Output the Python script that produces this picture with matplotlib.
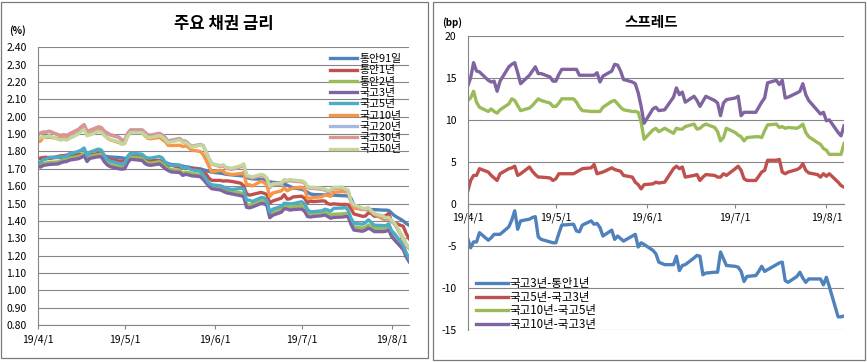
import matplotlib
matplotlib.use('Agg')
import matplotlib.pyplot as plt
import matplotlib.dates as mdates
from matplotlib.patches import Rectangle
from matplotlib.ticker import FuncFormatter
import numpy as np
import pandas as pd

plt.rcParams['font.family'] = ['Noto Sans CJK KR', 'DejaVu Sans']

# business days 2019-04-01 .. 2019-08-07 (KR holidays removed)
dates = pd.bdate_range('2019-04-01', '2019-08-07')
dates = dates.drop(pd.to_datetime(['2019-05-06', '2019-06-06']))

yield_names = ['통안91일', '통안1년', '통안2년', '국고3년', '국고5년',
               '국고10년', '국고20년', '국고30년', '국고50년']
yield_colors = ['#4F81BD', '#C0504D', '#9BBB59', '#8064A2', '#4BACC6',
                '#F79646', '#A6B9DC', '#D99694', '#C3D69B']

t91 = [1.758, 1.760, 1.762, 1.762, 1.763, 1.765, 1.766, 1.767, 1.768, 1.770, 1.772, 1.774, 1.776, 1.774, 1.775, 1.776, 1.776, 1.774, 1.770, 1.768, 1.765, 1.763,
       1.760, 1.762, 1.765, 1.762, 1.758, 1.752, 1.748, 1.745, 1.740, 1.735, 1.730, 1.725, 1.720, 1.715, 1.712, 1.710, 1.705, 1.700, 1.695, 1.690, 1.685, 1.680,
       1.675, 1.672, 1.668, 1.665, 1.660, 1.658, 1.650, 1.645, 1.642, 1.640, 1.636, 1.632, 1.625, 1.622, 1.618, 1.612, 1.605, 1.598, 1.590,
       1.582, 1.575, 1.565, 1.555, 1.552, 1.550, 1.550, 1.550, 1.548, 1.548, 1.545, 1.545, 1.542, 1.530, 1.490, 1.468, 1.465, 1.465, 1.465, 1.465, 1.462, 1.462, 1.460,
       1.445, 1.430, 1.400, 1.385, 1.375]
t1y = [1.756, 1.762, 1.765, 1.767, 1.759, 1.771, 1.775, 1.776, 1.778, 1.786, 1.785, 1.784, 1.783, 1.772, 1.780, 1.789, 1.783, 1.776, 1.761, 1.753, 1.745, 1.744,
       1.746, 1.767, 1.780, 1.772, 1.762, 1.755, 1.745, 1.748, 1.739, 1.723, 1.718, 1.720, 1.709, 1.704, 1.706, 1.706, 1.704, 1.693, 1.676, 1.671, 1.646, 1.633,
       1.633, 1.629, 1.631, 1.627, 1.617, 1.602, 1.557, 1.548, 1.552, 1.564, 1.559, 1.552, 1.502, 1.514, 1.531, 1.551, 1.525, 1.527, 1.538,
       1.542, 1.530, 1.505, 1.514, 1.511, 1.515, 1.514, 1.499, 1.495, 1.498, 1.494, 1.495, 1.493, 1.471, 1.440, 1.426, 1.428, 1.446, 1.443, 1.427, 1.427, 1.429, 1.443,
       1.397, 1.388, 1.369, 1.328, 1.298]
t2y = [1.727, 1.722, 1.732, 1.734, 1.737, 1.740, 1.747, 1.752, 1.754, 1.762, 1.770, 1.777, 1.787, 1.754, 1.772, 1.782, 1.780, 1.752, 1.734, 1.724, 1.712, 1.710,
       1.713, 1.748, 1.768, 1.761, 1.743, 1.735, 1.733, 1.741, 1.728, 1.713, 1.703, 1.695, 1.691, 1.675, 1.681, 1.678, 1.673, 1.668, 1.653, 1.633, 1.613, 1.598,
       1.594, 1.586, 1.578, 1.571, 1.561, 1.556, 1.494, 1.491, 1.496, 1.516, 1.514, 1.506, 1.434, 1.448, 1.466, 1.486, 1.484, 1.478, 1.481,
       1.486, 1.473, 1.443, 1.440, 1.443, 1.448, 1.452, 1.443, 1.433, 1.438, 1.440, 1.443, 1.442, 1.398, 1.365, 1.358, 1.365, 1.376, 1.368, 1.356, 1.356, 1.358, 1.365,
       1.330, 1.310, 1.255, 1.214, 1.190]
t3y = [1.715, 1.710, 1.720, 1.722, 1.725, 1.728, 1.735, 1.740, 1.742, 1.750, 1.758, 1.765, 1.775, 1.742, 1.760, 1.770, 1.768, 1.740, 1.722, 1.712, 1.700, 1.698,
       1.700, 1.735, 1.755, 1.748, 1.730, 1.722, 1.720, 1.728, 1.715, 1.700, 1.690, 1.682, 1.678, 1.662, 1.668, 1.665, 1.660, 1.655, 1.640, 1.620, 1.600, 1.585,
       1.578, 1.570, 1.562, 1.555, 1.545, 1.540, 1.478, 1.475, 1.480, 1.500, 1.498, 1.490, 1.418, 1.432, 1.450, 1.470, 1.468, 1.462, 1.465,
       1.468, 1.455, 1.425, 1.422, 1.425, 1.430, 1.434, 1.425, 1.415, 1.420, 1.422, 1.425, 1.424, 1.380, 1.347, 1.340, 1.347, 1.358, 1.350, 1.338, 1.338, 1.340, 1.347,
       1.310, 1.290, 1.235, 1.194, 1.165]
t5y = [1.730, 1.738, 1.754, 1.756, 1.767, 1.766, 1.769, 1.771, 1.770, 1.786, 1.800, 1.808, 1.820, 1.776, 1.796, 1.814, 1.807, 1.775, 1.754, 1.744, 1.731, 1.726,
       1.730, 1.771, 1.791, 1.784, 1.768, 1.762, 1.762, 1.771, 1.762, 1.736, 1.727, 1.720, 1.721, 1.703, 1.708, 1.704, 1.694, 1.687, 1.666, 1.643, 1.618, 1.608,
       1.602, 1.596, 1.587, 1.581, 1.587, 1.585, 1.520, 1.519, 1.512, 1.534, 1.533, 1.518, 1.450, 1.467, 1.484, 1.502, 1.500, 1.498, 1.499,
       1.510, 1.500, 1.465, 1.452, 1.453, 1.458, 1.467, 1.463, 1.455, 1.472, 1.474, 1.478, 1.462, 1.416, 1.385, 1.381, 1.390, 1.406, 1.390, 1.375, 1.373, 1.372, 1.383,
       1.343, 1.326, 1.261, 1.216, 1.185]
t10y = [1.855, 1.860, 1.888, 1.880, 1.882, 1.875, 1.880, 1.886, 1.876, 1.896, 1.921, 1.931, 1.943, 1.898, 1.903, 1.923, 1.926, 1.903, 1.877, 1.867, 1.851, 1.844,
        1.846, 1.889, 1.915, 1.908, 1.890, 1.875, 1.873, 1.881, 1.868, 1.856, 1.835, 1.834, 1.836, 1.828, 1.833, 1.823, 1.808, 1.800, 1.783, 1.752, 1.716, 1.681,
        1.691, 1.685, 1.673, 1.667, 1.672, 1.678, 1.608, 1.608, 1.601, 1.628, 1.621, 1.606, 1.540, 1.560, 1.573, 1.590, 1.573, 1.582, 1.589,
        1.594, 1.583, 1.530, 1.531, 1.534, 1.539, 1.549, 1.546, 1.541, 1.564, 1.569, 1.567, 1.571, 1.506, 1.474, 1.465, 1.468, 1.475, 1.455, 1.440, 1.410, 1.408, 1.415,
        1.400, 1.385, 1.300, 1.262, 1.250]
t20y = [1.895, 1.905, 1.910, 1.910, 1.915, 1.895, 1.890, 1.895, 1.890, 1.900, 1.925, 1.940, 1.953, 1.915, 1.920, 1.940, 1.935, 1.915, 1.905, 1.895, 1.880, 1.865,
        1.865, 1.905, 1.925, 1.925, 1.910, 1.895, 1.895, 1.905, 1.895, 1.880, 1.860, 1.865, 1.875, 1.860, 1.860, 1.845, 1.830, 1.840, 1.835, 1.800, 1.760, 1.730,
        1.715, 1.720, 1.705, 1.700, 1.715, 1.725, 1.660, 1.655, 1.650, 1.665, 1.660, 1.645, 1.595, 1.610, 1.615, 1.635, 1.630, 1.635, 1.632,
        1.628, 1.620, 1.595, 1.590, 1.590, 1.585, 1.580, 1.572, 1.575, 1.590, 1.592, 1.580, 1.575, 1.510, 1.490, 1.470, 1.468, 1.472, 1.455, 1.440, 1.425, 1.415, 1.418,
        1.400, 1.385, 1.300, 1.265, 1.245]
t30y = [1.897, 1.907, 1.912, 1.912, 1.917, 1.897, 1.892, 1.897, 1.892, 1.902, 1.927, 1.942, 1.955, 1.917, 1.922, 1.942, 1.937, 1.917, 1.907, 1.897, 1.882, 1.867,
        1.863, 1.903, 1.923, 1.923, 1.908, 1.893, 1.893, 1.903, 1.893, 1.878, 1.858, 1.863, 1.873, 1.858, 1.858, 1.843, 1.828, 1.838, 1.833, 1.798, 1.758, 1.728,
        1.712, 1.717, 1.702, 1.697, 1.712, 1.722, 1.657, 1.652, 1.647, 1.662, 1.657, 1.642, 1.592, 1.607, 1.612, 1.632, 1.627, 1.632, 1.629,
        1.625, 1.617, 1.592, 1.587, 1.587, 1.582, 1.577, 1.569, 1.572, 1.587, 1.589, 1.577, 1.572, 1.507, 1.487, 1.467, 1.465, 1.469, 1.452, 1.437, 1.422, 1.412, 1.415,
        1.397, 1.382, 1.297, 1.262, 1.242]
t50y = [1.870, 1.880, 1.885, 1.885, 1.890, 1.870, 1.865, 1.870, 1.865, 1.875, 1.900, 1.915, 1.928, 1.890, 1.895, 1.915, 1.910, 1.890, 1.880, 1.870, 1.855, 1.840,
        1.848, 1.888, 1.908, 1.908, 1.894, 1.880, 1.880, 1.891, 1.882, 1.868, 1.849, 1.855, 1.866, 1.852, 1.853, 1.839, 1.825, 1.836, 1.832, 1.798, 1.759, 1.730,
        1.718, 1.723, 1.708, 1.703, 1.718, 1.728, 1.663, 1.658, 1.653, 1.668, 1.663, 1.648, 1.598, 1.613, 1.618, 1.638, 1.633, 1.638, 1.635,
        1.631, 1.623, 1.598, 1.593, 1.593, 1.588, 1.583, 1.575, 1.578, 1.593, 1.595, 1.583, 1.578, 1.513, 1.493, 1.473, 1.471, 1.475, 1.458, 1.443, 1.428, 1.418, 1.421,
        1.403, 1.388, 1.303, 1.268, 1.248]

spread_names = ['국고3년-통안1년', '국고5년-국고3년', '국고10년-국고5년', '국고10년-국고3년']
spread_colors = ['#4F81BD', '#C0504D', '#9BBB59', '#8064A2']

s3_1 = [-4.1, -5.2, -4.5, -4.5, -3.4, -4.3, -4.0, -3.6, -3.6, -3.6, -2.7, -1.9, -0.8, -3.0, -2.0, -1.8, -1.6, -1.5, -3.9, -4.2, -4.5, -4.6,
        -4.6, -3.5, -2.5, -2.4, -3.2, -3.3, -2.5, -2.0, -2.4, -2.3, -2.8, -3.8, -3.1, -4.2, -3.8, -4.1, -4.4, -3.8, -3.6, -5.1, -4.6, -4.8,
        -5.5, -5.9, -6.9, -7.2, -7.2, -6.2, -7.9, -7.3, -7.2, -6.4, -6.1, -6.2, -8.4, -8.2, -8.1, -8.1, -5.7, -6.5, -7.3,
        -7.4, -7.5, -8.0, -9.2, -8.6, -8.5, -8.0, -7.4, -8.0, -7.8, -7.2, -7.0, -6.9, -9.1, -9.3, -8.6, -8.1, -8.8, -9.3, -8.9, -8.9, -8.9, -9.6,
        -8.7, -9.8, -13.4, -13.4, -13.3]
s5_3 = [1.5, 2.8, 3.4, 3.4, 4.2, 3.8, 3.4, 3.1, 2.8, 3.6, 4.2, 4.3, 4.5, 3.4, 3.6, 4.4, 3.9, 3.5, 3.2, 3.2, 3.1, 2.8,
        3.0, 3.6, 3.6, 3.6, 3.8, 4.0, 4.2, 4.3, 4.7, 3.6, 3.7, 3.8, 4.3, 4.1, 4.0, 3.9, 3.4, 3.2, 2.6, 2.3, 1.8, 2.3,
        2.4, 2.6, 2.5, 2.6, 4.2, 4.5, 4.2, 4.4, 3.2, 3.4, 3.5, 2.8, 3.2, 3.5, 3.4, 3.2, 3.2, 3.6, 3.4,
        4.2, 4.5, 4.0, 3.0, 2.8, 2.8, 3.3, 3.8, 4.0, 5.2, 5.2, 5.3, 3.8, 3.6, 3.8, 4.1, 4.3, 4.8, 4.0, 3.7, 3.5, 3.2, 3.6,
        3.3, 3.6, 2.6, 2.2, 2.0]
s10_5 = [12.3, 12.6, 13.4, 12.1, 11.5, 11.0, 11.3, 11.0, 10.8, 11.2, 11.9, 12.5, 12.3, 11.7, 11.1, 11.4, 11.7, 12.1, 12.5, 12.3, 12.0, 11.6,
         11.6, 12.0, 12.5, 12.5, 12.1, 11.5, 11.1, 11.0, 11.0, 11.0, 11.0, 11.5, 12.2, 12.3, 11.9, 11.5, 11.2, 11.0, 11.0, 10.9, 9.7, 7.7,
         8.8, 9.0, 8.6, 9.0, 8.4, 9.0, 8.9, 8.9, 9.2, 9.5, 8.9, 9.0, 9.3, 9.5, 9.1, 8.6, 7.5, 7.9, 9.0,
         8.5, 8.2, 8.0, 7.5, 7.9, 8.0, 8.0, 7.9, 8.7, 9.4, 9.5, 9.1, 9.2, 9.0, 9.1, 9.0, 9.2, 9.5, 8.5, 8.0, 7.3, 7.1, 6.6,
         6.4, 5.9, 5.9, 5.9, 7.2]
s10_3 = [14.0, 15.0, 16.8, 15.8, 15.7, 14.7, 14.5, 14.6, 13.4, 14.6, 16.3, 16.6, 16.8, 15.6, 14.3, 15.3, 15.8, 16.3, 15.5, 15.5, 15.1, 14.6,
         14.6, 15.4, 16.0, 16.0, 16.0, 15.3, 15.3, 15.3, 15.3, 15.6, 14.5, 15.2, 15.8, 16.6, 16.5, 15.8, 14.8, 14.5, 14.3, 13.2, 11.6, 9.6,
         11.3, 11.5, 11.1, 11.2, 12.7, 13.8, 13.0, 13.3, 12.1, 12.8, 12.3, 11.6, 12.2, 12.8, 12.3, 12.0, 10.5, 12.0, 12.4,
         12.6, 12.8, 10.5, 10.9, 10.9, 10.9, 11.5, 12.1, 12.6, 14.4, 14.7, 14.2, 14.7, 12.6, 12.7, 13.2, 13.4, 14.3, 13.0, 12.3, 11.1, 10.7, 10.9,
         9.9, 10.0, 8.5, 8.1, 9.3]

yields = [t91, t1y, t2y, t3y, t5y, t10y, t20y, t30y, t50y]
spreads = [s3_1, s5_3, s10_5, s10_3]
for s in yields + spreads:
    assert len(s) == len(dates), len(s)

month_ticks = pd.to_datetime(['2019-04-01', '2019-05-01', '2019-06-01', '2019-07-01', '2019-08-01'])
x0, x1 = pd.Timestamp('2019-04-01'), pd.Timestamp('2019-08-07')


def date_label(v, pos):
    d = mdates.num2date(v)
    return f"{d.year % 100}/{d.month}/{d.day}"


W, H = 867, 362
fig = plt.figure(figsize=(W / 100, H / 100), dpi=100)
grid_c = '#868686'


def px_axes(l, t, r, b):
    return fig.add_axes([l / W, 1 - b / H, (r - l) / W, (b - t) / H])


def frame(l, t, r, b):
    fig.patches.append(Rectangle((l / W, 1 - b / H), (r - l) / W, (b - t) / H,
                                 transform=fig.transFigure, fill=False,
                                 ec='#7a7a7a', lw=0.9))


frame(1, 2, 428, 358)
frame(433, 2, 865, 360)

# ---- left: yields
ax1 = px_axes(37.7, 47.3, 409, 325)
for s, name, c in zip(yields, yield_names, yield_colors):
    ax1.plot(dates, s, color=c, lw=2.4, label=name, solid_joinstyle='round')
ax1.set_xlim(x0, x1)
ax1.set_ylim(0.8, 2.4)
ax1.set_yticks(np.arange(0.8, 2.401, 0.1))
ax1.yaxis.set_major_formatter(FuncFormatter(lambda v, p: f"{v:.2f}"))
ax1.set_xticks(month_ticks)
ax1.xaxis.set_major_formatter(FuncFormatter(date_label))
ax1.grid(axis='y', color=grid_c, lw=0.8)
ax1.set_axisbelow(True)
for sp in ['top', 'right']:
    ax1.spines[sp].set_visible(False)
for sp in ['left', 'bottom']:
    ax1.spines[sp].set_color(grid_c)
ax1.tick_params(axis='y', length=0, pad=8, labelsize=7.5)
ax1.tick_params(axis='x', length=3, color=grid_c, pad=4, labelsize=7.5)
fig.text(224 / W, 1 - 24 / H, '주요 채권 금리', ha='center', va='center',
         fontsize=12, fontweight='bold')
fig.text(18 / W, 1 - 31 / H, '(%)', ha='center', va='center', fontsize=7, fontweight='bold')
ax1.legend(loc='upper left', bbox_to_anchor=(330 / W, 1 - 54 / H),
           bbox_transform=fig.transFigure, frameon=False, fontsize=7.8,
           handlelength=2.5, handletextpad=0.2, labelspacing=0.12,
           borderpad=0, borderaxespad=0)

# ---- right: spreads
ax2 = px_axes(467.7, 35.7, 844, 330.3)
for s, name, c in zip(spreads, spread_names, spread_colors):
    ax2.plot(dates, s, color=c, lw=2.4, label=name, solid_joinstyle='round')
ax2.set_xlim(x0, x1)
ax2.set_ylim(-15, 20)
ax2.set_yticks(np.arange(-15, 21, 5))
ax2.yaxis.set_major_formatter(FuncFormatter(lambda v, p: f"{int(round(v))}"))
ax2.set_xticks(month_ticks)
ax2.xaxis.set_major_formatter(FuncFormatter(date_label))
ax2.grid(axis='y', color=grid_c, lw=0.8)
ax2.set_axisbelow(True)
for sp in ['top', 'right']:
    ax2.spines[sp].set_visible(False)
ax2.spines['bottom'].set_position(('data', 0))
for sp in ['left', 'bottom']:
    ax2.spines[sp].set_color(grid_c)
ax2.tick_params(axis='y', length=0, pad=8, labelsize=7.5)
ax2.tick_params(axis='x', length=3, color=grid_c, pad=3, labelsize=7.5)
fig.text(651 / W, 1 - 22 / H, '스프레드', ha='center', va='center',
         fontsize=10.5, fontweight='bold')
fig.text(452 / W, 1 - 23 / H, '(bp)', ha='center', va='center', fontsize=7, fontweight='bold')
ax2.legend(loc='upper left', bbox_to_anchor=(476 / W, 1 - 277 / H),
           bbox_transform=fig.transFigure, frameon=False, fontsize=8.3,
           handlelength=2.8, handletextpad=0.1, labelspacing=0.05,
           borderpad=0, borderaxespad=0)

fig.savefig('out.png', dpi=100)
